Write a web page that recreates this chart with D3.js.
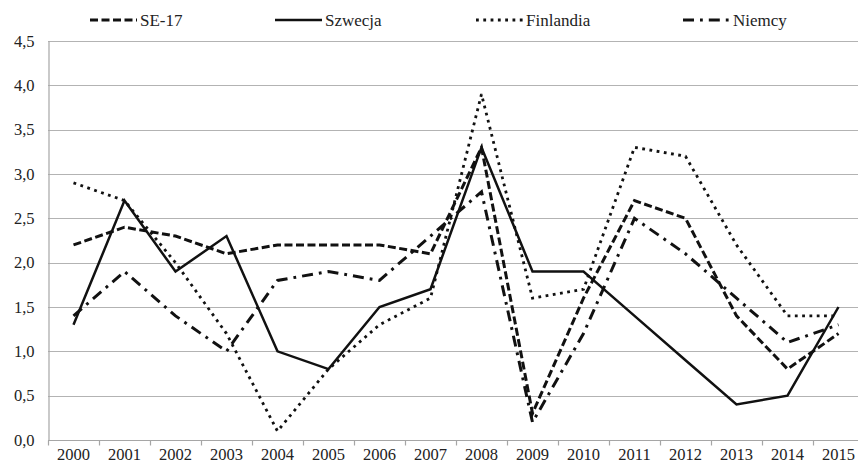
<!DOCTYPE html>
<html>
<head>
<meta charset="utf-8">
<script src="https://cdn.jsdelivr.net/npm/d3@7"></script>
<style>
  body { margin: 0; background: #fff; }
  svg { display: block; }
  svg text { font-family: "Liberation Serif", "Times New Roman", "DejaVu Serif", serif; }
</style>
</head>
<body>
<svg id="chart" width="858" height="468"></svg>
<script>
"use strict";

// Categories (years)
const years = ["2000", "2001", "2002", "2003", "2004", "2005", "2006", "2007",
    "2008", "2009", "2010", "2011", "2012", "2013", "2014", "2015"];

// Series values
const se17 = [2.2, 2.4, 2.3, 2.1, 2.2, 2.2, 2.2, 2.1, 3.3, 0.3, 1.6, 2.7, 2.5, 1.4, 0.8, 1.2];
const szwecja = [1.3, 2.7, 1.9, 2.3, 1.0, 0.8, 1.5, 1.7, 3.3, 1.9, 1.9, 1.4, 0.9, 0.4, 0.5, 1.5];
const finlandia = [2.9, 2.7, 2.0, 1.2, 0.1, 0.8, 1.3, 1.6, 3.9, 1.6, 1.7, 3.3, 3.2, 2.2, 1.4, 1.4];
const niemcy = [1.4, 1.9, 1.4, 1.0, 1.8, 1.9, 1.8, 2.3, 2.8, 0.2, 1.2, 2.5, 2.1, 1.6, 1.1, 1.3];

// Y tick values
const yTicks = [0, 0.5, 1, 1.5, 2, 2.5, 3, 3.5, 4, 4.5];

const seriesNames = ["SE-17", "Szwecja", "Finlandia", "Niemcy"];

// Line styles per series
const styles = {
    "SE-17": {width: 3, dash: "8,3.5"},
    "Szwecja": {width: 2.5, dash: null},
    "Finlandia": {width: 2.8, dash: "2.8,4.5"},
    "Niemcy": {width: 3, dash: "11,6,2.8,6"}
};

const series = [
    {name: "SE-17", values: se17},
    {name: "Szwecja", values: szwecja},
    {name: "Finlandia", values: finlandia},
    {name: "Niemcy", values: niemcy}
];

const margin = {top: 41, left: 48, bottom: 440},
    bandWidth = 51;

const svg = d3.select("#chart");

const x = d3.scaleBand()
    .domain(years)
    .range([margin.left, margin.left + bandWidth * years.length])
    .padding(0);

const y = d3.scaleLinear()
    .domain([0, 4.5])
    .range([margin.bottom, margin.top]);

// Gridlines
svg.append("g")
    .selectAll("line")
    .data(yTicks.filter((d) => d > 0))
    .enter()
    .append("line")
    .attr("x1", margin.left)
    .attr("x2", 858)
    .attr("y1", (d) => Math.round(y(d)) + 0.5)
    .attr("y2", (d) => Math.round(y(d)) + 0.5)
    .attr("stroke", "#b3b3b3")
    .attr("stroke-width", 1.2);

// Y axis
const yAxis = svg.append("g")
    .attr("transform", `translate(${margin.left + 0.5},0)`)
    .call(d3.axisLeft(y).tickValues(yTicks).tickSize(0).tickPadding(14)
        .tickFormat((d) => d3.format(".1f")(d).replace(".", ",")));
yAxis.attr("font-family", null);
yAxis.select(".domain").attr("stroke", "#a6a6a6").attr("stroke-width", 1.2);
yAxis.selectAll("text")
    .attr("font-size", 16.5)
    .attr("fill", "#222");

// X axis: ticks between categories
const xAxis = svg.append("g")
    .attr("transform", `translate(0,${Math.round(margin.bottom) + 0.5})`);
xAxis.append("line")
    .attr("x1", margin.left)
    .attr("x2", 858)
    .attr("stroke", "#a6a6a6")
    .attr("stroke-width", 1.2);
xAxis.selectAll("line.tick")
    .data(years)
    .enter()
    .append("line")
    .attr("class", "tick")
    .attr("x1", (d) => Math.round(x(d)) + 0.5)
    .attr("x2", (d) => Math.round(x(d)) + 0.5)
    .attr("y1", 0)
    .attr("y2", 5)
    .attr("stroke", "#a6a6a6")
    .attr("stroke-width", 1.2);
xAxis.selectAll("text")
    .data(years)
    .enter()
    .append("text")
    .attr("x", (d) => x(d) + x.bandwidth() / 2)
    .attr("y", 19.5)
    .attr("text-anchor", "middle")
    .attr("font-size", 16.5)
    .attr("fill", "#222")
    .text((d) => d);

// Lines
const line = d3.line()
    .x((d, i) => x(years[i]) + x.bandwidth() / 2)
    .y((d) => y(d));

svg.append("g")
    .selectAll("path")
    .data(series)
    .enter()
    .append("path")
    .attr("d", (d) => line(d.values))
    .attr("fill", "none")
    .attr("stroke", "#111")
    .attr("stroke-width", (d) => styles[d.name].width)
    .attr("stroke-dasharray", (d) => styles[d.name].dash)
    .attr("stroke-linejoin", "miter");

// Legend
const legendX = [90, 275, 476, 683];
const legend = svg.append("g")
    .selectAll("g")
    .data(seriesNames)
    .enter()
    .append("g")
    .attr("transform", (d, i) => `translate(${legendX[i]},20)`);
legend.append("line")
    .attr("x1", 0)
    .attr("x2", 47)
    .attr("stroke", "#111")
    .attr("stroke-width", (d) => styles[d].width)
    .attr("stroke-dasharray", (d) => styles[d].dash);
legend.append("text")
    .attr("x", 50)
    .attr("y", 5.5)
    .attr("font-size", 17)
    .attr("fill", "#222")
    .text((d) => d);
</script>
</body>
</html>
